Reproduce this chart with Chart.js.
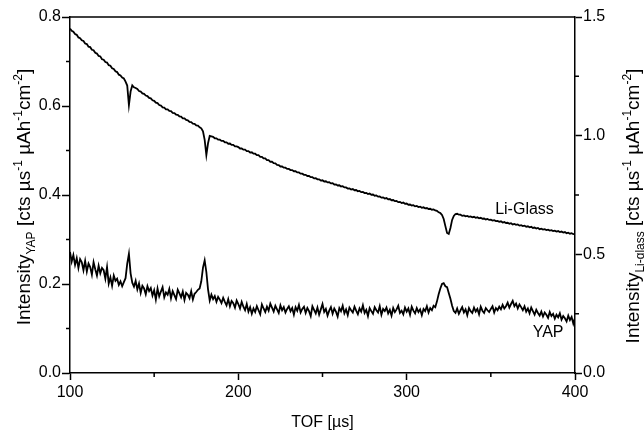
<!DOCTYPE html>
<html>
<head>
<meta charset="utf-8">
<script src="https://cdn.jsdelivr.net/npm/chart.js@4.4.1/dist/chart.umd.min.js"></script>
<style>
  html, body { margin: 0; padding: 0; background: #fff; }
</style>
</head>
<body>
<canvas id="tof" width="644" height="433"></canvas>
<script>
// time of flight grid, 1 us steps from 100 to 400
var tofStart = 100;
var tofStep = 1;

// Li-Glass intensity (right axis), one value per us
var liGlass = [
  1.451, 1.442, 1.438, 1.428, 1.425, 1.414, 1.411, 1.402, 1.399, 1.388,
  1.386, 1.375, 1.373, 1.362, 1.360, 1.349, 1.346, 1.336, 1.334, 1.322,
  1.320, 1.310, 1.308, 1.297, 1.295, 1.284, 1.281, 1.271, 1.268, 1.257,
  1.254, 1.245, 1.241, 1.228, 1.211, 1.129, 1.186, 1.212, 1.204, 1.201,
  1.197, 1.188, 1.186, 1.178, 1.176, 1.169, 1.167, 1.159, 1.157, 1.149,
  1.147, 1.139, 1.137, 1.129, 1.127, 1.119, 1.118, 1.111, 1.111, 1.104,
  1.103, 1.096, 1.095, 1.089, 1.088, 1.081, 1.080, 1.073, 1.073, 1.066,
  1.065, 1.058, 1.057, 1.051, 1.050, 1.043, 1.042, 1.035, 1.031, 1.018,
  0.982, 0.918, 0.968, 0.999, 0.997, 0.995, 0.989, 0.989, 0.983, 0.983,
  0.978, 0.978, 0.972, 0.972, 0.966, 0.967, 0.961, 0.961, 0.955, 0.955,
  0.952, 0.946, 0.946, 0.941, 0.941, 0.935, 0.935, 0.929, 0.930, 0.924,
  0.924, 0.918, 0.918, 0.911, 0.911, 0.904, 0.904, 0.897, 0.897, 0.890,
  0.890, 0.884, 0.883, 0.877, 0.876, 0.870, 0.870, 0.865, 0.865, 0.860,
  0.860, 0.855, 0.855, 0.850, 0.850, 0.845, 0.845, 0.840, 0.840, 0.835,
  0.835, 0.830, 0.830, 0.825, 0.825, 0.820, 0.821, 0.816, 0.816, 0.811,
  0.812, 0.807, 0.808, 0.803, 0.804, 0.799, 0.800, 0.794, 0.795, 0.790,
  0.791, 0.786, 0.787, 0.782, 0.782, 0.777, 0.778, 0.773, 0.775, 0.770,
  0.771, 0.766, 0.767, 0.762, 0.763, 0.758, 0.759, 0.754, 0.756, 0.751,
  0.752, 0.747, 0.748, 0.743, 0.744, 0.739, 0.740, 0.735, 0.737, 0.732,
  0.733, 0.728, 0.729, 0.724, 0.725, 0.720, 0.721, 0.716, 0.718, 0.713,
  0.714, 0.709, 0.710, 0.706, 0.707, 0.702, 0.704, 0.699, 0.701, 0.696,
  0.698, 0.694, 0.695, 0.691, 0.692, 0.688, 0.689, 0.685, 0.683, 0.677,
  0.674, 0.666, 0.649, 0.619, 0.590, 0.586, 0.611, 0.645, 0.662, 0.670,
  0.671, 0.667, 0.667, 0.662, 0.664, 0.660, 0.662, 0.658, 0.660, 0.656,
  0.658, 0.654, 0.656, 0.652, 0.654, 0.650, 0.651, 0.647, 0.649, 0.645,
  0.646, 0.642, 0.644, 0.640, 0.641, 0.637, 0.639, 0.634, 0.636, 0.632,
  0.633, 0.629, 0.631, 0.626, 0.628, 0.624, 0.626, 0.621, 0.623, 0.619,
  0.621, 0.616, 0.618, 0.614, 0.616, 0.611, 0.613, 0.609, 0.611, 0.606,
  0.608, 0.604, 0.606, 0.602, 0.604, 0.600, 0.602, 0.598, 0.600, 0.596,
  0.598, 0.594, 0.596, 0.592, 0.594, 0.589, 0.591, 0.587, 0.589, 0.585,
  0.586
];

// YAP intensity (left axis), one value per us
var yap = [
  0.272, 0.250, 0.265, 0.243, 0.258, 0.236, 0.256, 0.249, 0.231, 0.252,
  0.228, 0.246, 0.238, 0.221, 0.249, 0.233, 0.219, 0.241, 0.224, 0.236,
  0.231, 0.212, 0.238, 0.201, 0.215, 0.196, 0.219, 0.207, 0.212, 0.198,
  0.206, 0.195, 0.204, 0.213, 0.246, 0.268, 0.224, 0.203, 0.194, 0.207,
  0.188, 0.201, 0.180, 0.196, 0.190, 0.177, 0.195, 0.184, 0.191, 0.174,
  0.186, 0.165, 0.190, 0.172, 0.183, 0.193, 0.170, 0.181, 0.176, 0.189,
  0.168, 0.184, 0.175, 0.166, 0.187, 0.179, 0.170, 0.183, 0.164, 0.180,
  0.176, 0.168, 0.184, 0.165, 0.178, 0.182, 0.187, 0.190, 0.206, 0.237,
  0.253, 0.227, 0.188, 0.163, 0.176, 0.166, 0.173, 0.160, 0.171, 0.165,
  0.157, 0.169, 0.160, 0.152, 0.166, 0.150, 0.162, 0.157, 0.147, 0.163,
  0.155, 0.145, 0.160, 0.149, 0.141, 0.155, 0.138, 0.148, 0.133, 0.145,
  0.137, 0.150, 0.141, 0.132, 0.154, 0.145, 0.137, 0.149, 0.140, 0.156,
  0.147, 0.138, 0.151, 0.143, 0.135, 0.152, 0.141, 0.148, 0.136, 0.144,
  0.150, 0.139, 0.146, 0.131, 0.148, 0.140, 0.153, 0.136, 0.144, 0.149,
  0.135, 0.146, 0.139, 0.128, 0.150, 0.142, 0.134, 0.147, 0.131, 0.143,
  0.155, 0.137, 0.144, 0.129, 0.140, 0.148, 0.133, 0.145, 0.138, 0.127,
  0.146, 0.139, 0.151, 0.134, 0.143, 0.130, 0.147, 0.141, 0.136, 0.149,
  0.140, 0.132, 0.145, 0.138, 0.152, 0.135, 0.142, 0.128, 0.146, 0.139,
  0.133, 0.148, 0.141, 0.136, 0.150, 0.131, 0.144, 0.139, 0.147, 0.134,
  0.142, 0.129, 0.146, 0.137, 0.143, 0.151, 0.135, 0.140, 0.132, 0.147,
  0.138, 0.145, 0.131, 0.149, 0.140, 0.134, 0.146, 0.137, 0.143, 0.130,
  0.144, 0.139, 0.150, 0.136, 0.146, 0.141, 0.151, 0.148, 0.161, 0.177,
  0.190, 0.200, 0.202, 0.195, 0.193, 0.180, 0.167, 0.151, 0.139, 0.135,
  0.145, 0.133, 0.141, 0.148, 0.136, 0.143, 0.130, 0.146, 0.139, 0.135,
  0.147, 0.138, 0.144, 0.132, 0.149, 0.140, 0.135, 0.146, 0.141, 0.137,
  0.144, 0.150, 0.136, 0.146, 0.141, 0.149, 0.143, 0.153, 0.145, 0.150,
  0.158, 0.147, 0.155, 0.162, 0.150, 0.156, 0.145, 0.154, 0.148, 0.141,
  0.150, 0.138, 0.145, 0.134, 0.147, 0.139, 0.131, 0.142, 0.135, 0.129,
  0.138, 0.127, 0.136, 0.131, 0.124, 0.137, 0.128, 0.133, 0.122, 0.131,
  0.125, 0.134, 0.120, 0.128, 0.123, 0.116, 0.129, 0.119, 0.126, 0.111,
  0.124
];

// ticks
var xMajor = [100, 200, 300, 400];
var xMinor = [150, 250, 350];
var yMajor = [0.0, 0.2, 0.4, 0.6, 0.8];
var yMinor = [0.1, 0.3, 0.5, 0.7];
var y2Major = [0.0, 0.5, 1.0, 1.5];
var y2Minor = [0.25, 0.75, 1.25];

// curve labels, in data units
var liLabel = { text: 'Li-Glass', tof: 370, value: 0.69 };
var yapLabel = { text: 'YAP', tof: 384, value: 0.09 };

var FONT = '"Liberation Sans", Arial, Helvetica, sans-serif';

function toPoints(values) {
  return values.map(function (v, i) { return { x: tofStart + i * tofStep, y: v }; });
}

// rich text with sub/superscripts, centred on (cx, base)
function drawRich(ctx, runs, cx, base, rotate) {
  ctx.save();
  ctx.translate(cx, base);
  if (rotate) ctx.rotate(-Math.PI / 2);
  var total = 0;
  runs.forEach(function (r) {
    ctx.font = r.size + 'px ' + FONT;
    r.w = ctx.measureText(r.text).width;
    total += r.w;
  });
  var x = -total / 2;
  ctx.fillStyle = '#000';
  ctx.textBaseline = 'alphabetic';
  ctx.textAlign = 'left';
  runs.forEach(function (r) {
    ctx.font = r.size + 'px ' + FONT;
    ctx.fillText(r.text, x, r.dy || 0);
    x += r.w;
  });
  ctx.restore();
}

function unitRuns(sub) {
  var big = 19, small = 12;
  return [
    { text: 'Intensity', size: big },
    { text: sub, size: small, dy: 5 },
    { text: ' [cts \u00b5s', size: big },
    { text: '-1', size: small, dy: -8 },
    { text: ' \u00b5Ah', size: big },
    { text: '-1', size: small, dy: -8 },
    { text: 'cm', size: big },
    { text: '-2', size: small, dy: -8 },
    { text: ']', size: big }
  ];
}

var extras = {
  id: 'extras',
  afterDraw: function (chart) {
    var ctx = chart.ctx, a = chart.chartArea, s = chart.scales;
    ctx.save();
    ctx.strokeStyle = '#000';
    ctx.lineWidth = 1.5;
    ctx.beginPath();
    // top frame
    ctx.moveTo(a.left, a.top);
    ctx.lineTo(a.right, a.top);
    // minor ticks
    xMinor.forEach(function (v) {
      var px = s.x.getPixelForValue(v);
      ctx.moveTo(px, a.bottom); ctx.lineTo(px, a.bottom + 4);
    });
    yMinor.forEach(function (v) {
      var py = s.y.getPixelForValue(v);
      ctx.moveTo(a.left, py); ctx.lineTo(a.left - 4, py);
    });
    y2Minor.forEach(function (v) {
      var py = s.y2.getPixelForValue(v);
      ctx.moveTo(a.right, py); ctx.lineTo(a.right + 4, py);
    });
    ctx.stroke();

    // curve labels
    ctx.fillStyle = '#000';
    ctx.font = '16px ' + FONT;
    ctx.textAlign = 'center';
    ctx.textBaseline = 'middle';
    ctx.fillText(liLabel.text, s.x.getPixelForValue(liLabel.tof), s.y2.getPixelForValue(liLabel.value));
    ctx.fillText(yapLabel.text, s.x.getPixelForValue(yapLabel.tof), s.y.getPixelForValue(yapLabel.value));

    // axis titles
    var midY = (a.top + a.bottom) / 2;
    drawRich(ctx, [{ text: 'TOF [\u00b5s]', size: 16 }], (a.left + a.right) / 2, a.bottom + 54, false);
    drawRich(ctx, unitRuns('YAP'), 30, midY + 2, true);
    drawRich(ctx, unitRuns('Li-glass'), 639, midY + 11, true);
    ctx.restore();
  }
};

var axisGrid = function (len) {
  return {
    display: true,
    drawOnChartArea: false,
    drawTicks: true,
    tickLength: len,
    tickColor: '#000',
    tickWidth: 1.5
  };
};
var axisBorder = { display: true, color: '#000', width: 1.5 };

var chart = new Chart(document.getElementById('tof').getContext('2d'), {
  type: 'line',
  data: {
    datasets: [
      {
        label: 'Li-Glass',
        data: toPoints(liGlass),
        yAxisID: 'y2',
        borderColor: '#000',
        borderWidth: 1.8,
        pointRadius: 0,
        tension: 0,
        fill: false
      },
      {
        label: 'YAP',
        data: toPoints(yap),
        yAxisID: 'y',
        borderColor: '#000',
        borderWidth: 1.8,
        pointRadius: 0,
        tension: 0,
        fill: false
      }
    ]
  },
  options: {
    responsive: false,
    animation: false,
    layout: { padding: { top: 17, left: 0, right: 0, bottom: 0 } },
    plugins: {
      legend: { display: false },
      tooltip: { enabled: false }
    },
    scales: {
      x: {
        type: 'linear',
        min: 100,
        max: 400,
        afterBuildTicks: function (scale) { scale.ticks = xMajor.map(function (v) { return { value: v }; }); },
        afterFit: function (scale) { scale.height = 60; },
        ticks: { color: '#000', font: { family: FONT, size: 16 }, padding: 3, maxRotation: 0 },
        grid: axisGrid(7),
        border: axisBorder
      },
      y: {
        position: 'left',
        min: 0,
        max: 0.8,
        afterBuildTicks: function (scale) { scale.ticks = yMajor.map(function (v) { return { value: v }; }); },
        afterFit: function (scale) { scale.width = 70; },
        ticks: {
          color: '#000',
          font: { family: FONT, size: 16 },
          padding: 1,
          callback: function (v) { return v.toFixed(1); }
        },
        grid: axisGrid(8),
        border: axisBorder
      },
      y2: {
        position: 'right',
        min: 0,
        max: 1.5,
        afterBuildTicks: function (scale) { scale.ticks = y2Major.map(function (v) { return { value: v }; }); },
        afterFit: function (scale) { scale.width = 69; },
        ticks: {
          color: '#000',
          font: { family: FONT, size: 16 },
          padding: 1,
          callback: function (v) { return v.toFixed(1); }
        },
        grid: axisGrid(7),
        border: axisBorder
      }
    }
  },
  plugins: [extras]
});
</script>
</body>
</html>
